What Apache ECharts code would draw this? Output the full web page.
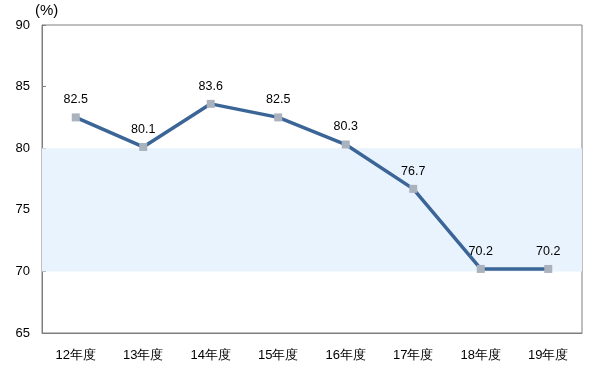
<!DOCTYPE html>
<html><head><meta charset="utf-8">
<script src="https://cdn.jsdelivr.net/npm/echarts@6/dist/echarts.min.js"></script>
<style>html,body{margin:0;padding:0;background:#fff}#c{width:596px;height:379px}</style>
</head><body><div id="c"></div>
<script>
const categories = ['12年度','13年度','14年度','15年度','16年度','17年度','18年度','19年度'];
const values = [82.5, 80.1, 83.6, 82.5, 80.3, 76.7, 70.2, 70.2];
const bandRange = [70, 80];
const yTicks = {min: 65, max: 90, interval: 5};

const chart = echarts.init(document.getElementById('c'), null, {renderer: 'canvas'});
const font = 'Liberation Sans, Arial, sans-serif';
chart.setOption({
  animation: false,
  grid: {left: 42, right: 14, top: 25, bottom: 46, show: true, borderColor: '#7f7f7f', borderWidth: 1},
  xAxis: {
    type: 'category', data: categories, boundaryGap: true,
    axisLine: {lineStyle: {color: '#7f7f7f', width: 1}},
    axisTick: {inside: true, length: 4, lineStyle: {color: '#7f7f7f'}},
    axisLabel: {color: '#000', fontSize: 13, fontFamily: font, margin: 16}
  },
  yAxis: {
    type: 'value', min: yTicks.min, max: yTicks.max, interval: yTicks.interval,
    name: '(%)', nameLocation: 'end', nameGap: 5,
    nameTextStyle: {color: '#000', fontSize: 15, fontFamily: font, align: 'left', padding: [0, 0, 0, -7]},
    splitLine: {show: false},
    axisLine: {show: true, lineStyle: {color: '#7f7f7f', width: 1}},
    axisTick: {show: true, inside: true, length: 4, lineStyle: {color: '#7f7f7f'}},
    axisLabel: {color: '#000', fontSize: 13, fontFamily: font, margin: 12}
  },
  series: [{
    type: 'line', data: values,
    symbol: 'rect', symbolSize: 8,
    itemStyle: {color: '#a9b2bd'},
    lineStyle: {color: '#3b6597', width: 3.5},
    label: {show: true, position: 'top', distance: 7, color: '#000', fontSize: 12.5, fontFamily: font,
      formatter: p => p.value.toFixed(1)},
    markArea: {
      silent: true,
      itemStyle: {color: '#e9f3fd'},
      data: [[{yAxis: bandRange[0]}, {yAxis: bandRange[1]}]]
    },
    z: 3
  }]
});
</script></body></html>
